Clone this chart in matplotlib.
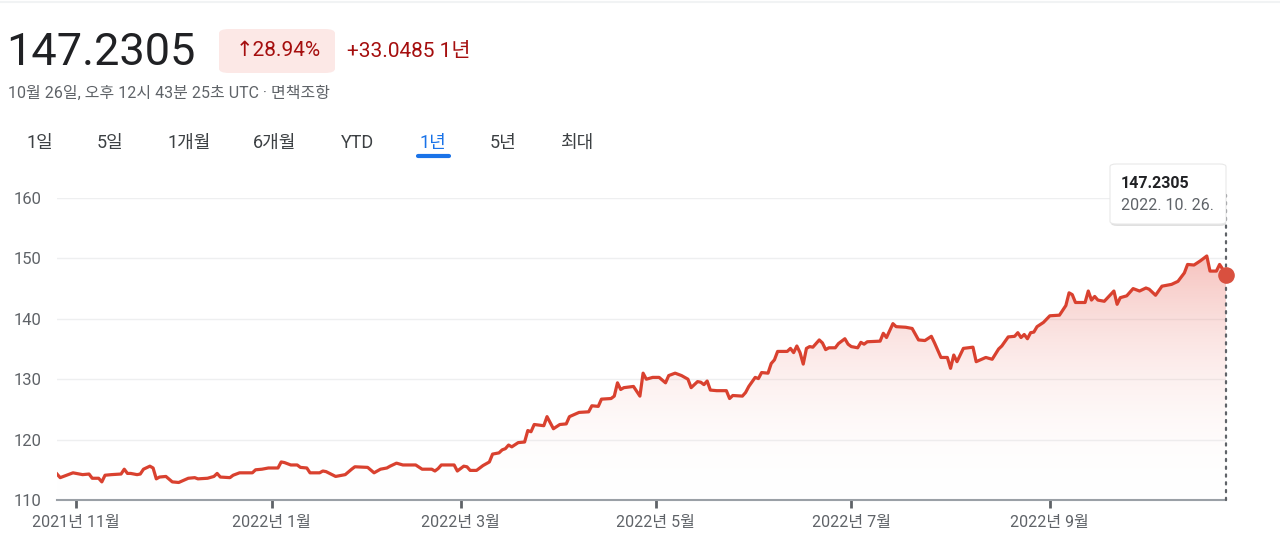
import numpy as np
import pandas as pd
import matplotlib
matplotlib.use("Agg")
import matplotlib.pyplot as plt
import matplotlib.dates as mdates
from matplotlib.colors import LinearSegmentedColormap
from matplotlib.patches import FancyBboxPatch, PathPatch

plt.rcParams['font.family'] = ['Roboto', 'Noto Sans CJK KR', 'DejaVu Sans']

# ---- data: days since 2021-10-26 and price ----
start = pd.Timestamp("2021-10-26")
days = [0, 1, 3, 5, 8, 10, 11, 13, 14, 15, 17, 20, 21, 22, 23, 25, 26, 27, 29, 30,
        31, 32, 34, 36, 38, 41, 43, 44, 47, 49, 50, 51, 54, 55, 57, 61, 62, 64, 66, 69,
        70, 71, 73, 75, 76, 78, 79, 82, 83, 84, 87, 89, 90, 92, 93, 97, 99, 101, 103, 104,
        106, 108, 110, 112, 114, 117, 118, 119, 120, 124, 125, 127, 128, 129, 131, 133, 135, 136, 138, 139,
        140, 141, 142, 144, 146, 147, 148, 149, 152, 153, 154, 155, 157, 159, 160, 163, 166, 167, 169, 170,
        173, 174, 175, 176, 177, 180, 182, 183, 184, 186, 188, 190, 191, 193, 195, 197, 198, 200, 201, 202,
        203, 204, 206, 209, 210, 211, 214, 215, 216, 218, 219, 220, 222, 223, 224, 225, 228, 229, 230, 231,
        232, 233, 234, 235, 236, 238, 239, 240, 241, 243, 244, 246, 247, 248, 250, 251, 252, 253, 257, 258,
        259, 261, 262, 265, 267, 269, 271, 273, 274, 276, 278, 279, 280, 281, 283, 286, 287, 290, 292, 294,
        295, 297, 299, 300, 301, 302, 303, 304, 305, 306, 308, 310, 313, 315, 316, 317, 318, 321, 322, 323,
        324, 325, 327, 330, 331, 332, 334, 336, 338, 340, 341, 343, 345, 348, 350, 352, 353, 355, 357, 359,
        360, 362, 363, 364, 365]
prices = [114.3, 113.7, 114.1, 114.5, 114.2, 114.3, 113.6, 113.6, 113.0, 114.1, 114.2, 114.3, 115.1, 114.4, 114.4, 114.2, 114.3, 115.1, 115.6, 115.3,
          113.5, 113.8, 113.9, 113.0, 112.9, 113.6, 113.7, 113.5, 113.6, 113.9, 114.4, 113.8, 113.7, 114.1, 114.5, 114.5, 115.0, 115.1, 115.3, 115.3,
          116.3, 116.2, 115.8, 115.8, 115.4, 115.3, 114.5, 114.5, 114.8, 114.7, 113.9, 114.1, 114.2, 115.1, 115.5, 115.4, 114.5, 115.1, 115.3, 115.6,
          116.1, 115.8, 115.8, 115.8, 115.1, 115.1, 114.8, 115.2, 115.8, 115.8, 114.8, 115.6, 115.5, 114.9, 114.9, 115.7, 116.3, 117.6, 117.8, 118.3,
          118.5, 119.1, 118.8, 119.5, 119.6, 121.5, 121.3, 122.5, 122.3, 123.8, 122.8, 121.8, 122.5, 122.6, 123.8, 124.5, 124.6, 125.6, 125.5, 126.7,
          126.8, 127.2, 129.4, 128.3, 128.6, 128.8, 127.2, 131.0, 130.0, 130.3, 130.3, 129.4, 130.6, 131.0, 130.6, 130.0, 128.6, 129.6, 129.5, 129.1,
          129.7, 128.2, 128.1, 128.1, 126.8, 127.3, 127.2, 127.8, 128.8, 130.3, 130.1, 131.1, 131.0, 132.6, 133.2, 134.6, 134.6, 135.1, 134.4, 135.5,
          134.4, 132.5, 135.1, 135.4, 135.3, 136.5, 136.0, 134.9, 135.2, 135.2, 135.9, 136.7, 135.8, 135.4, 135.2, 136.1, 135.8, 136.2, 136.3, 137.6,
          136.9, 139.2, 138.7, 138.6, 138.4, 136.5, 136.4, 137.1, 136.0, 133.6, 133.6, 131.8, 134.0, 132.9, 135.1, 135.3, 132.9, 133.6, 133.3, 135.0,
          135.5, 137.0, 137.1, 137.7, 136.9, 137.4, 136.7, 137.7, 137.8, 138.7, 139.4, 140.5, 140.6, 142.2, 144.3, 144.0, 142.7, 142.7, 144.6, 143.1,
          143.7, 143.1, 142.9, 144.6, 142.4, 143.5, 143.8, 145.0, 144.6, 145.1, 144.9, 143.9, 145.4, 145.7, 146.2, 147.6, 149.0, 148.9, 149.6, 150.4,
          147.9, 147.9, 149.0, 148.2, 147.2305]
yticks = [110, 120, 130, 140, 150, 160]
xtick_dates = ["2021-11-01", "2022-01-01", "2022-03-01", "2022-05-01", "2022-07-01", "2022-09-01"]
xtick_labels = ["2021년 11월", "2022년 1월", "2022년 3월", "2022년 5월", "2022년 7월", "2022년 9월"]
tabs = ["1일", "5일", "1개월", "6개월", "YTD", "1년", "5년", "최대"]
tab_x = [40, 110, 189, 275, 358, 433, 503, 577]

dates = start + pd.to_timedelta(days, unit="D")
x = mdates.date2num(dates.to_pydatetime())
y = np.array(prices)

RED = "#d9412f"
W, H = 1280, 544
fig = plt.figure(figsize=(12.8, 5.44), dpi=100)

def fx(px):
    return px / W

def fy(py):
    return 1 - py / H

ax = fig.add_axes([fx(57), fy(500), fx(1226) - fx(57), fy(198) - fy(500)])
ax.set_xlim(x[0], x[-1])
ax.set_ylim(110, 160)

# gradient fill under the line
cmap = LinearSegmentedColormap.from_list("g", [(1, 1, 1, 0), (0.90, 0.30, 0.25, 0.34)])
grad = np.linspace(0, 1, 256).reshape(-1, 1)
im = ax.imshow(grad, extent=[x[0], x[-1], 110, y.max()], origin="lower",
               aspect="auto", cmap=cmap, zorder=1)
poly = ax.fill_between(x, y, 110, color="none")
clip = PathPatch(poly.get_paths()[0], transform=ax.transData, facecolor="none", edgecolor="none")
ax.add_patch(clip)
im.set_clip_path(clip)

ax.plot(x, y, color=RED, lw=2.3, zorder=3, solid_joinstyle="round")
ax.plot([x[-1], x[-1]], [110, 160.5], color="#5f6368", lw=1.6, ls=(0, (1, 2.5)),
        zorder=4, clip_on=False, dash_capstyle="round")
ax.scatter([x[-1]], [y[-1]], s=120, color="#d9503f", zorder=5, clip_on=False)

for t in yticks[1:]:
    ax.axhline(t, color="#eeeff0", lw=1, zorder=0)

ax.set_yticks(yticks)
ax.set_yticklabels([str(t) for t in yticks], fontsize=12, color="#5f6368")
ax.tick_params(axis="y", length=0, pad=11)
xt = mdates.date2num(pd.to_datetime(xtick_dates).to_pydatetime())
ax.set_xticks(xt)
ax.set_xticklabels(xtick_labels, fontsize=11.5, color="#5f6368")
ax.tick_params(axis="x", length=6, width=2, color="#5f6368", pad=5)
for s in ["top", "right", "left"]:
    ax.spines[s].set_visible(False)
ax.spines["bottom"].set_color("#9aa0a6")
ax.spines["bottom"].set_linewidth(1.5)

# tooltip
shadow = FancyBboxPatch((fx(1111), fy(226)), fx(115), fy(166) - fy(226),
                        boxstyle="round,pad=0,rounding_size=0.005",
                        transform=fig.transFigure, facecolor="#000000", alpha=0.12,
                        edgecolor="none", zorder=9)
fig.patches.append(shadow)
box = FancyBboxPatch((fx(1110), fy(224)), fx(116), fy(164) - fy(224),
                     boxstyle="round,pad=0,rounding_size=0.005",
                     transform=fig.transFigure, facecolor="white",
                     edgecolor="#e8e8e8", lw=0.8, zorder=10)
fig.patches.append(box)
fig.text(fx(1121), fy(183), "147.2305", fontsize=11.5, fontweight="bold",
         color="#202124", va="center", zorder=11)
fig.text(fx(1121), fy(205), "2022. 10. 26.", fontsize=11.5, color="#5f6368",
         va="center", zorder=11)

# header
fig.add_artist(plt.Line2D([0, 1], [fy(2), fy(2)], color="#f1f3f4", lw=1.5))
fig.text(fx(6), fy(53), "147.2305", fontsize=32.5, color="#202124", va="center")
pill = FancyBboxPatch((fx(219), fy(73)), fx(116), fy(29) - fy(73),
                      boxstyle="round,pad=0,rounding_size=0.008",
                      transform=fig.transFigure, facecolor="#fce8e6", edgecolor="none")
fig.patches.append(pill)
fig.text(fx(278), fy(51), "↑28.94%", fontsize=15, color="#a50e0e",
         va="center", ha="center", family=["Roboto", "DejaVu Sans"])
fig.text(fx(347), fy(51), "+33.0485 1년", fontsize=15, color="#a50e0e", va="center")
fig.text(fx(8), fy(93), "10월 26일, 오후 12시 43분 25초 UTC · 면책조항",
         fontsize=11.5, color="#5f6368", va="center")

for lab, tx in zip(tabs, tab_x):
    col = "#1a73e8" if lab == "1년" else "#3c4043"
    fig.text(fx(tx), fy(143), lab, fontsize=13, color=col, ha="center", va="center")
fig.add_artist(plt.Line2D([fx(418), fx(449)], [fy(156), fy(156)], color="#1a73e8",
                          lw=3, solid_capstyle="round"))

fig.savefig("out.png", dpi=100)
